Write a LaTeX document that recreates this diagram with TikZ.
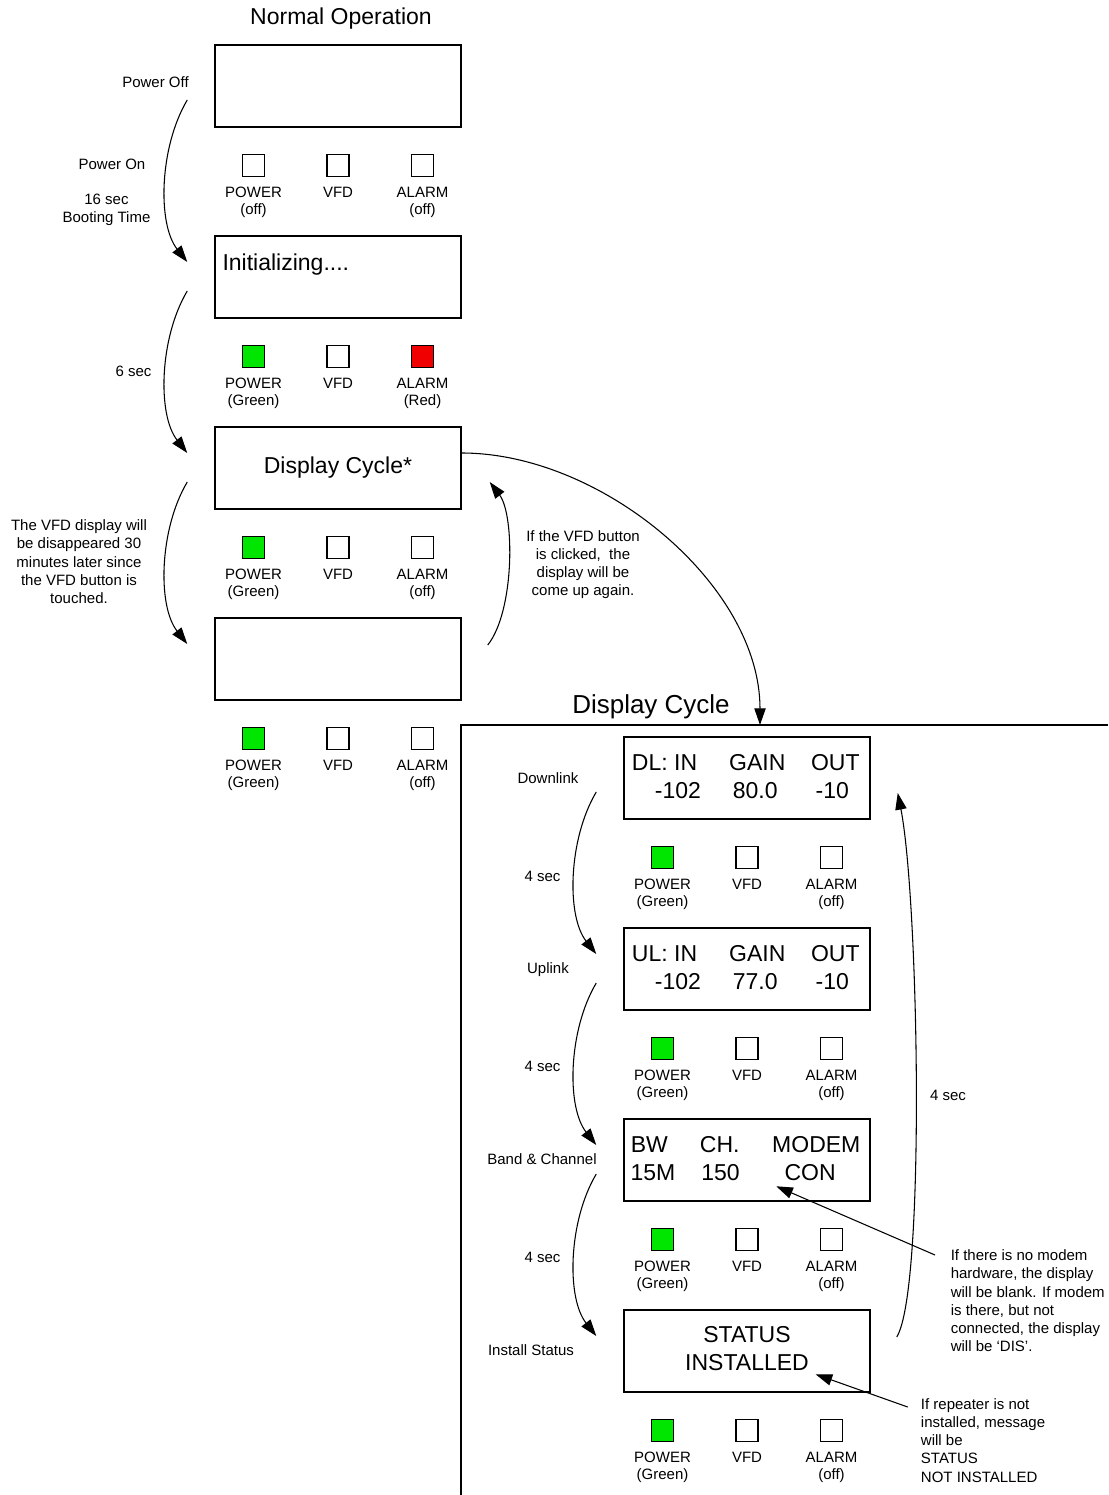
\documentclass[tikz,border=0pt]{standalone}
\usepackage{fontspec}
\setmainfont{Liberation Sans}
\usetikzlibrary{arrows.meta,positioning}

\definecolor{ledgreen}{RGB}{0,230,0}
\definecolor{ledred}{RGB}{240,0,0}

\newcommand{\notefont}{\fontsize{11.25}{13.7}\selectfont}
\newcommand{\ledfont}{\fontsize{11.25}{12.75}\selectfont}
\newcommand{\lcdfont}{\fontsize{17.25}{21}\selectfont}
\newcommand{\cycfont}{\fontsize{19.5}{23}\selectfont}

% one row of front panel lamps under a display
\newcommand{\ledrow}[6]{%
  \node[led, fill=#3] (#1pw) at ([shift={(-84.5,38)}]#2.south) {};
  \node[led] (#1vfd) at ([shift={(0,38)}]#2.south) {};
  \node[led, fill=#5] (#1al) at ([shift={(84.5,38)}]#2.south) {};
  \node[ledtxt, below=7pt of #1pw] (#1pwt) {POWER\\#4};
  \node[ledtxt, below=7pt of #1vfd] (#1vfdt) {VFD};
  \node[ledtxt, below=7pt of #1al] (#1alt) {ALARM\\#6};
}

\tikzset{
  lcd/.style={draw, line width=1.1pt, minimum width=184.5pt, minimum height=61.5pt, inner sep=0pt},
  led/.style={draw, line width=1pt, minimum size=16.5pt, inner sep=0pt},
  ledtxt/.style={font=\ledfont, align=center, inner sep=0pt},
  lcdtxt/.style={font=\lcdfont, inner sep=0pt},
  note/.style={font=\notefont, inner sep=0pt},
  flow/.style={-{Triangle[length=12.5pt,width=8.5pt]}, line width=0.8pt},
  frame/.style={line width=1.1pt},
}

\begin{document}
\begin{tikzpicture}[x=0.75pt, y=-0.75pt]
\useasboundingbox (0,0) rectangle (1108,1495);

% normal operation
\node[font=\lcdfont, anchor=base] (normTitle) at (341,25) {Normal Operation};
\node[lcd] (lcdOff) at (338,86) {};
\node[lcd] (lcdInit) at (338,277) {};
\node[lcdtxt, anchor=base west] (initTxt) at ([shift={(8,35)}]lcdInit.north west) {Initializing....};
\node[lcd, font=\lcdfont] (lcdCyc) at (338,468) {Display Cycle*};
\node[lcd] (lcdBlank) at (338,659) {};

\ledrow{a}{lcdOff}{white}{(off)}{white}{(off)}
\ledrow{b}{lcdInit}{ledgreen}{(Green)}{ledred}{(Red)}
\ledrow{c}{lcdCyc}{ledgreen}{(Green)}{white}{(off)}
\ledrow{d}{lcdBlank}{ledgreen}{(Green)}{white}{(off)}

\node[note, anchor=base east] (pwOff) at (189,87.5) {Power Off};
\node[note, anchor=base] (pwOn) at (112,169.5) {Power On};
\node[note, align=center, anchor=north] (boot) at (106.5,193.5) {16 sec\\Booting Time};
\node[note, anchor=base] (sixSec) at (133.5,376) {6 sec};
\node[note, align=center, anchor=north] (vfdOff) at (79,519.5) {The VFD display will\\be disappeared 30\\minutes later since\\the VFD button is\\touched.};
\node[note, align=center, anchor=north] (vfdOn) at (583,530) {If the VFD button\\is clicked,~ the\\display will be\\come up again.};

\draw[flow] ([shift={(-27,14)}]lcdOff.west) .. controls +(-28,47) and +(-30,-38) .. ([shift={(-27,-15)}]lcdInit.west);
\draw[flow] ([shift={(-27,14)}]lcdInit.west) .. controls +(-28,47) and +(-30,-38) .. ([shift={(-27,-15)}]lcdCyc.west);
\draw[flow] ([shift={(-27,14)}]lcdCyc.west) .. controls +(-28,47) and +(-30,-38) .. ([shift={(-27,-15)}]lcdBlank.west);
\draw[flow] ([shift={(26,-14)}]lcdBlank.east) .. controls +(27,-34) and +(25,33) .. ([shift={(28,14)}]lcdCyc.east);

% display cycle
\node[font=\cycfont, anchor=base] (cycTitle) at (651,713) {Display Cycle};
\draw[frame] (461,1495) -- (461,725) -- (1108,725);
\coordinate (cycIn) at (760,725);
\draw[flow] ([shift={(0,-15)}]lcdCyc.east) .. controls +(140,0) and +(0,-140) .. (cycIn);

\node[lcd] (lcdDL) at (747,778) {};
\node[lcd] (lcdUL) at (747,969) {};
\node[lcd] (lcdBW) at (747,1160) {};
\node[lcd] (lcdSt) at (747,1351) {};

\foreach \txt/\dx/\dy [count=\k] in {DL: IN/41.3/34, GAIN/134/34, OUT/212/34, -102/54.6/62, 80.0/132/62, -10/209/62}
  \node[lcdtxt, anchor=base] (dl\k) at ([shift={(\dx,\dy)}]lcdDL.north west) {\txt};
\foreach \txt/\dx/\dy [count=\k] in {UL: IN/41.3/34, GAIN/134/34, OUT/212/34, -102/54.6/62, 77.0/132/62, -10/209/62}
  \node[lcdtxt, anchor=base] (ul\k) at ([shift={(\dx,\dy)}]lcdUL.north west) {\txt};
\foreach \txt/\dx/\dy [count=\k] in {BW/26/34, CH./96.5/34, MODEM/193/34, 15M/29.6/62, 150/97.3/62, CON/186.8/62}
  \node[lcdtxt, anchor=base] (bw\k) at ([shift={(\dx,\dy)}]lcdBW.north west) {\txt};
\node[lcdtxt, anchor=base] (st1) at ([shift={(0,33)}]lcdSt.north) {STATUS};
\node[lcdtxt, anchor=base] (st2) at ([shift={(0,61)}]lcdSt.north) {INSTALLED};

\ledrow{e}{lcdDL}{ledgreen}{(Green)}{white}{(off)}
\ledrow{f}{lcdUL}{ledgreen}{(Green)}{white}{(off)}
\ledrow{g}{lcdBW}{ledgreen}{(Green)}{white}{(off)}
\ledrow{h}{lcdSt}{ledgreen}{(Green)}{white}{(off)}

\node[note, anchor=base] (dlLbl) at (548,783.5) {Downlink};
\node[note, anchor=base] (secA) at (542.5,881) {4 sec};
\node[note, anchor=base] (ulLbl) at (548,973.3) {Uplink};
\node[note, anchor=base] (secB) at (542.5,1071) {4 sec};
\node[note, anchor=base] (bwLbl) at (542,1164.5) {Band \& Channel};
\node[note, anchor=base] (secC) at (542.5,1262) {4 sec};
\node[note, anchor=base] (stLbl) at (531,1355) {Install Status};
\node[note, anchor=base] (secD) at (948,1100) {4 sec};

\draw[flow] ([shift={(-27,14)}]lcdDL.west) .. controls +(-28,47) and +(-30,-38) .. ([shift={(-27,-15)}]lcdUL.west);
\draw[flow] ([shift={(-27,14)}]lcdUL.west) .. controls +(-28,47) and +(-30,-38) .. ([shift={(-27,-15)}]lcdBW.west);
\draw[flow] ([shift={(-27,14)}]lcdBW.west) .. controls +(-28,47) and +(-30,-38) .. ([shift={(-27,-15)}]lcdSt.west);
\draw[flow] ([shift={(26,-14)}]lcdSt.east) .. controls +(29,-47) and +(21,107) .. ([shift={(27,15)}]lcdDL.east);

\node[note, align=left, anchor=north west] (modemNote) at (950.5,1249.5) {If there is no modem\\hardware, the display\\will be blank. If modem\\is there, but not\\connected, the display\\will be ‘DIS’.};
\node[note, align=left, anchor=north west] (repNote) at (920.7,1398) {If repeater is not\\installed, message\\will be\\STATUS\\NOT INSTALLED};
\draw[flow] ([shift={(-15.5,5.5)}]modemNote.north west) -- ([shift={(-8,6)}]bw6.base west);
\draw[flow] ([shift={(-13,9)}]repNote.north west) -- ([shift={(6.5,4)}]st2.base east);
\end{tikzpicture}
\end{document}
